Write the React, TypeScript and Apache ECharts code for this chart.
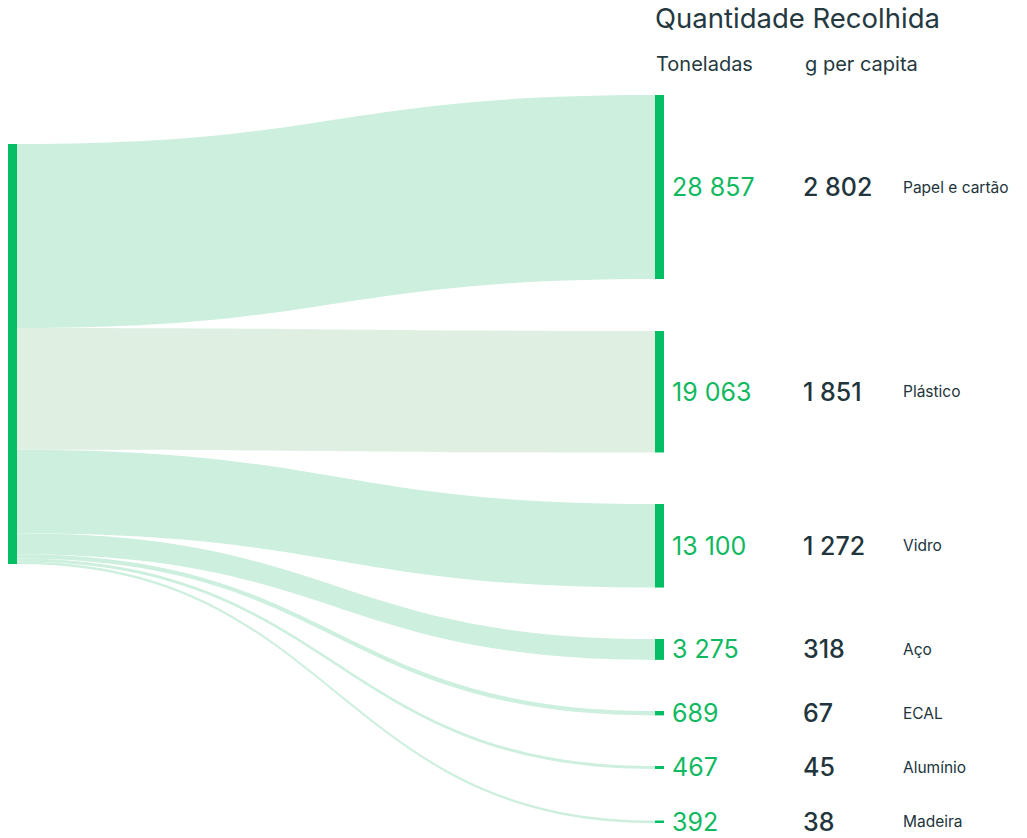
import React, { useEffect, useRef } from "react";
import * as echarts from "echarts";

const categories = ["Papel e cartão", "Plástico", "Vidro", "Aço", "ECAL", "Alumínio", "Madeira"];
const tonnes = [28857, 19063, 13100, 3275, 689, 467, 392];
const perCapita = [2802, 1851, 1272, 318, 67, 45, 38];
const sourceName = "Total";
const title = "Quantidade Recolhida";
const colHeaders = ["Toneladas", "g per capita"];

const H = 838;
// node top positions (px) in the reference, used as layout ratios
const nodeTops = [95, 331, 504, 639, 711, 766, 820.5];
const sourceTop = 144;

const fmt = (n: number) => String(n).replace(/\B(?=(\d{3})+(?!\d))/g, " ");

export default function App() {
  const ref = useRef<HTMLDivElement>(null);
  useEffect(() => {
    document.body.style.margin = "0";
    const chart = echarts.init(ref.current!, null, { renderer: "svg" });
    const nodeH = 420;
    const gap = (H - nodeH) / (categories.length - 1);
    const font = "Inter, 'Noto Sans', sans-serif";
    const nodes: any[] = [
      { name: sourceName, localX: 0, localY: sourceTop / H, label: { show: false } },
      ...categories.map((c, i) => ({
        name: c,
        localY: nodeTops[i] / H,
      })),
    ];
    const links = categories.map((c, i) => ({
      source: sourceName,
      target: c,
      value: tonnes[i],
      lineStyle: { color: i === 1 ? "#dff0e3" : "#cdefdd", opacity: 1 },
    }));
    chart.setOption({
      animation: false,
      graphic: [
        { type: "text", left: 655, top: 4, style: { text: title, font: `400 27.5px ${font}`, fill: "#243940" } },
        { type: "text", left: 656, top: 54, style: { text: colHeaders[0], font: `400 20px ${font}`, fill: "#243940" } },
        { type: "text", left: 805, top: 54, style: { text: colHeaders[1], font: `400 20px ${font}`, fill: "#243940" } },
      ],
      series: [
        {
          type: "sankey",
          left: 8,
          top: 0,
          bottom: 0,
          right: 363,
          nodeWidth: 9,
          nodeGap: gap,
          layoutIterations: 0,
          draggable: false,
          emphasis: { disabled: true },
          itemStyle: { color: "#04bf63", borderWidth: 0 },
          lineStyle: { curveness: 0.5 },
          data: nodes,
          links,
          label: {
            show: true,
            position: "right",
            distance: 8,
            formatter: (p: any) => {
              const i = categories.indexOf(p.name);
              if (i < 0) return "";
              return `{t|${fmt(tonnes[i])}}{p|${fmt(perCapita[i])}}{n|${categories[i]}}`;
            },
            rich: {
              t: { fontFamily: "Inter", fontSize: 25, color: "#10b95f", width: 131, fontWeight: 400 },
              p: { fontFamily: "Inter", fontSize: 25, color: "#22343c", width: 100, fontWeight: 500 },
              n: { fontFamily: "Inter", fontSize: 15.5, color: "#22343c", fontWeight: 400 },
            },
          },
        },
      ],
    });
    return () => chart.dispose();
  }, []);
  return <div ref={ref} style={{ width: 1027, height: 838 }} />;
}
